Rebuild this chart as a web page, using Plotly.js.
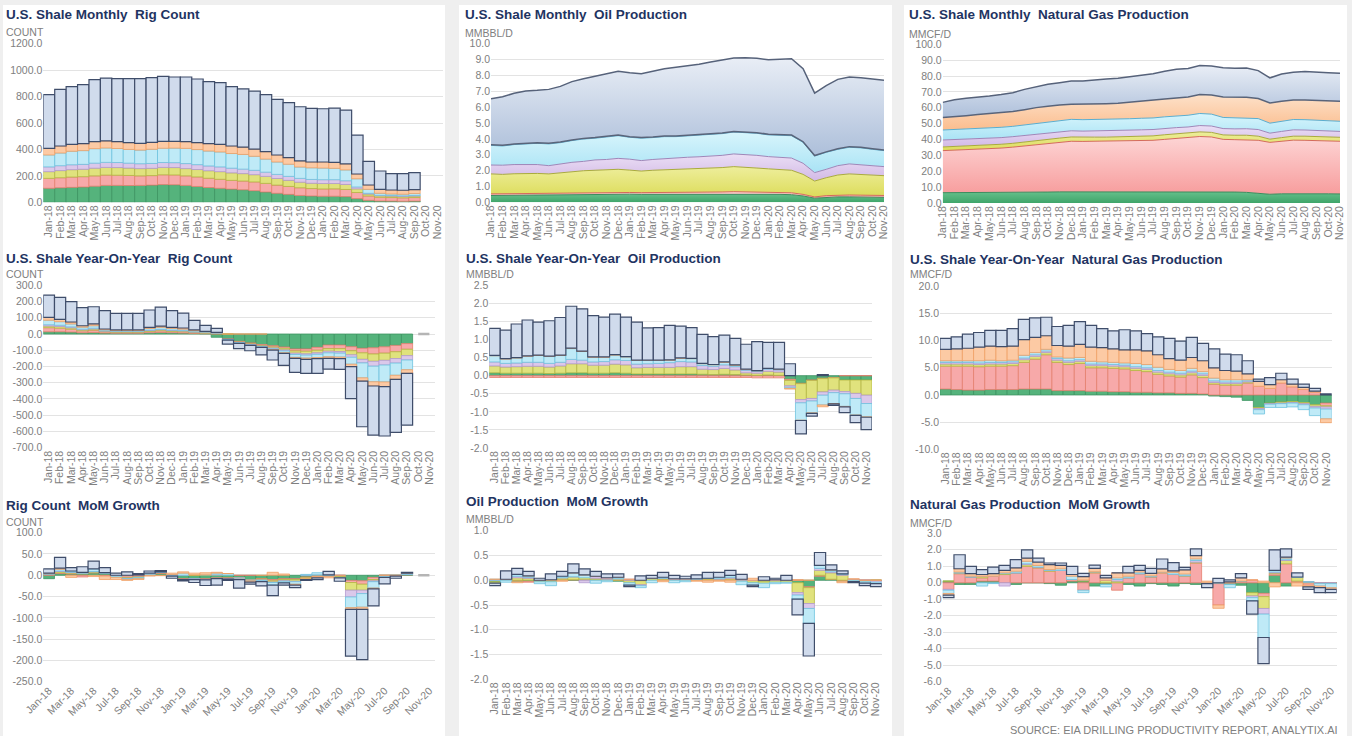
<!DOCTYPE html>
<html><head><meta charset="utf-8">
<script src="https://cdn.plot.ly/plotly-3.0.1.min.js"></script>
<style>html,body{margin:0;padding:0;background:#efefef;}#chart{width:1352px;height:736px;}</style>
</head><body><div id="chart"></div>
<script>
const months = ['Jan-18','Feb-18','Mar-18','Apr-18','May-18','Jun-18','Jul-18','Aug-18','Sep-18','Oct-18','Nov-18','Dec-18',
'Jan-19','Feb-19','Mar-19','Apr-19','May-19','Jun-19','Jul-19','Aug-19','Sep-19','Oct-19','Nov-19','Dec-19',
'Jan-20','Feb-20','Mar-20','Apr-20','May-20','Jun-20','Jul-20','Aug-20','Sep-20','Oct-20','Nov-20'];
const regions = ['Anadarko','Appalachia','Bakken','Niobrara','Eagle Ford','Haynesville','Permian'];

// Monthly rig count
const rigAnadarko   = [106,110,113,116,122,128,128,127,128,130,134,133,128,120,112,106,100,95,88,78,68,60,52,48,46,46,43,28,15,10,9,8,9,null,null];
const rigAppalachia = [75,76,78,78,78,78,77,76,72,72,74,74,72,72,70,68,66,66,66,65,62,60,58,56,55,56,54,46,33,28,27,26,27,null,null];
const rigBakken     = [51,54,56,56,58,58,58,56,55,55,56,56,55,56,57,58,57,56,55,53,50,46,42,40,41,40,38,28,14,11,11,11,11,null,null];
const rigNiobrara   = [36,37,37,37,38,38,38,37,37,37,37,37,38,37,36,36,35,34,33,32,31,30,29,29,29,29,28,14,6,4,4,4,4,null,null];
const rigEagleFord  = [90,96,102,104,110,109,106,104,103,107,108,110,115,114,113,113,111,111,106,99,94,92,86,88,88,86,82,62,30,15,12,12,15,null,null];
const rigHaynesville= [50,53,53,53,53,53,52,51,51,53,52,51,51,52,56,58,57,56,55,56,53,50,46,44,46,45,45,36,33,30,30,30,30,null,null];
const rigPermian    = [406,429,436,446,469,476,476,484,489,489,492,487,489,482,469,466,449,440,438,431,421,416,410,406,403,411,408,295,179,139,124,126,128,null,null];

// Monthly oil production (MMBBL/D)
const oilAnadarko   = [0.43,0.44,0.45,0.45,0.46,0.47,0.48,0.49,0.50,0.51,0.51,0.52,0.51,0.50,0.50,0.51,0.51,0.52,0.52,0.53,0.53,0.54,0.53,0.52,0.51,0.50,0.48,0.40,0.26,0.32,0.34,0.34,0.33,0.32,0.31];
const oilAppalachia = [0.10,0.10,0.10,0.10,0.10,0.10,0.11,0.11,0.11,0.11,0.11,0.11,0.11,0.11,0.11,0.11,0.12,0.12,0.12,0.12,0.12,0.13,0.13,0.13,0.13,0.12,0.12,0.10,0.08,0.10,0.12,0.12,0.12,0.12,0.12];
const oilBakken     = [1.26,1.22,1.25,1.28,1.26,1.22,1.27,1.35,1.38,1.40,1.42,1.45,1.41,1.36,1.41,1.43,1.43,1.44,1.47,1.49,1.54,1.58,1.56,1.51,1.47,1.46,1.42,1.26,1.00,1.13,1.26,1.33,1.31,1.28,1.25];
const oilNiobrara   = [0.56,0.58,0.58,0.57,0.56,0.52,0.56,0.57,0.59,0.65,0.66,0.69,0.69,0.66,0.68,0.71,0.74,0.76,0.76,0.76,0.77,0.80,0.80,0.80,0.77,0.76,0.77,0.70,0.53,0.53,0.59,0.63,0.61,0.61,0.57];
const oilEagleFord  = [1.24,1.21,1.26,1.30,1.34,1.37,1.34,1.37,1.41,1.37,1.40,1.43,1.38,1.41,1.38,1.38,1.34,1.34,1.38,1.37,1.37,1.38,1.37,1.39,1.37,1.38,1.41,1.32,1.05,1.07,1.03,1.05,1.06,1.01,1.01];
const oilHaynesville= [0.04,0.04,0.04,0.04,0.04,0.04,0.04,0.04,0.04,0.04,0.04,0.04,0.04,0.04,0.04,0.04,0.04,0.04,0.04,0.04,0.04,0.04,0.04,0.04,0.04,0.04,0.04,0.04,0.03,0.03,0.04,0.04,0.04,0.04,0.04];
const oilPermian    = [2.90,3.07,3.19,3.28,3.30,3.40,3.51,3.68,3.76,3.86,3.95,4.02,4.03,4.03,4.14,4.24,4.33,4.37,4.41,4.53,4.60,4.63,4.69,4.69,4.70,4.75,4.81,4.60,3.93,4.18,4.37,4.39,4.39,4.39,4.39];

// Monthly natural gas production (MMCF/D, thousands)
const gasAnadarko   = [6.5,6.5,6.5,6.5,6.6,6.6,6.6,6.7,6.8,6.9,7.0,7.0,7.0,7.1,7.1,7.2,7.2,7.2,7.2,7.3,7.3,7.3,7.3,7.2,7.0,6.9,6.7,6.3,5.5,5.8,5.9,5.9,5.8,5.8,5.7];
const gasAppalachia = [26.5,26.8,27.0,27.2,27.6,28.0,28.6,29.3,30.0,30.6,31.2,31.9,31.8,31.8,31.7,31.8,32.0,32.1,32.3,32.8,33.4,34.0,34.6,34.4,33.1,33.0,33.2,33.2,32.7,33.2,33.7,33.6,33.5,33.4,33.2];
const gasBakken     = [2.3,2.3,2.3,2.3,2.4,2.4,2.4,2.5,2.6,2.6,2.7,2.7,2.6,2.6,2.7,2.7,2.7,2.8,2.8,2.9,2.9,2.9,2.9,2.9,2.8,2.8,2.8,2.6,2.0,2.2,2.5,2.6,2.6,2.6,2.5];
const gasNiobrara   = [4.4,4.4,4.3,4.2,4.2,4.2,4.2,4.1,4.1,4.0,4.0,3.9,3.9,3.9,3.9,3.9,4.0,4.0,4.0,4.0,3.9,3.7,4.0,4.0,4.0,4.0,4.1,4.2,3.8,3.9,4.0,3.9,3.8,3.8,3.7];
const gasEagleFord  = [6.3,6.3,6.4,6.5,6.5,6.5,6.5,6.6,6.6,6.7,6.9,7.2,7.2,7.2,7.2,7.2,7.2,7.3,7.3,7.3,7.4,7.4,7.6,7.5,7.0,6.9,6.9,6.9,6.3,6.4,6.5,6.5,6.5,6.4,6.4];
const gasHaynesville= [7.8,8.3,8.5,9.0,9.0,9.2,9.3,9.6,10.0,10.1,10.0,9.5,9.7,9.8,10.0,10.0,10.3,10.7,10.9,11.2,11.3,11.5,11.9,12.1,12.9,13.2,12.9,12.6,12.7,12.6,12.3,12.4,12.5,12.5,12.6];
const gasPermian    = [9.6,10.5,11.0,10.9,11.1,11.4,11.9,12.8,13.2,13.9,14.0,14.7,14.7,15.3,15.6,15.8,16.2,16.6,17.0,17.5,18.0,17.9,18.3,18.2,18.5,18.1,18.5,17.6,15.8,17.2,17.5,17.9,17.9,17.6,17.6];

// Year-on-year rig count
const yoyRigAnadarko   = [14,14,12,8,10,6,5,5,5,8,10,8,6,3,2,-20,-30,-45,-55,-65,-72,-80,-92,-92,-82,-68,-68,-78,-88,-85,-79,-70,-59,null,null];
const yoyRigAppalachia = [25,22,18,12,14,8,6,6,6,8,10,8,8,5,3,2,-3,-5,-6,-7,-8,-8,-12,-14,-18,-22,-22,-25,-28,-38,-39,-39,-35,null,null];
const yoyRigBakken     = [10,10,8,6,7,4,3,3,3,5,6,5,5,4,3,2,0,-2,-3,-3,-6,-10,-14,-16,-16,-16,-18,-25,-40,-45,-44,-42,-39,null,null];
const yoyRigNiobrara   = [8,8,6,4,5,2,2,2,2,3,3,3,2,2,1,1,-2,-2,-3,-4,-5,-6,-8,-8,-9,-10,-10,-15,-22,-30,-29,-28,-27,null,null];
const yoyRigEagleFord  = [28,22,18,12,15,6,5,5,5,10,12,10,9,6,4,2,-2,-3,-3,-3,-6,-12,-18,-18,-20,-24,-24,-43,-92,-96,-104,-75,-60,null,null];
const yoyRigHaynesville= [18,14,12,9,11,5,4,4,4,7,8,7,7,5,3,3,0,0,0,0,-2,-3,-6,-8,-7,-10,-10,-15,-20,-26,-29,-25,-22,null,null];
const yoyRigPermian    = [137,136,125,111,106,113,102,102,102,107,117,103,92,59,37,25,-25,-33,-33,-47,-61,-74,-86,-86,-90,-66,-66,-197,-281,-302,-304,-327,-319,null,null];
const yoyRigNoData     = [null,null,null,null,null,null,null,null,null,null,null,null,null,null,null,null,null,null,null,null,null,null,null,null,null,null,null,null,null,null,null,null,null,0,0];

// Year-on-year oil production
const yoyOilAnadarko   = [0.08,0.07,0.07,0.07,0.07,0.06,0.07,0.08,0.08,0.07,0.07,0.08,0.07,0.05,0.05,0.05,0.05,0.05,0.05,0.04,0.03,0.04,0.03,0.02,0.01,0.02,0.01,-0.10,-0.21,-0.12,-0.07,-0.05,-0.12,-0.12,-0.12];
const yoyOilAppalachia = [-0.05,-0.05,-0.05,-0.05,-0.05,-0.05,-0.05,-0.05,-0.05,-0.05,-0.05,-0.05,-0.05,-0.05,-0.05,-0.05,-0.05,-0.05,-0.05,-0.05,-0.05,-0.05,-0.05,-0.05,-0.06,-0.06,-0.06,-0.03,-0.01,-0.01,-0.01,-0.01,0,0,0];
const yoyOilBakken     = [0.19,0.17,0.18,0.19,0.19,0.18,0.20,0.25,0.25,0.22,0.22,0.24,0.23,0.17,0.18,0.18,0.18,0.20,0.20,0.14,0.14,0.16,0.13,0.06,0.06,0.10,0.09,-0.15,-0.44,-0.50,-0.37,-0.34,-0.32,-0.37,-0.42];
const yoyOilNiobrara   = [0.11,0.10,0.10,0.11,0.11,0.10,0.10,0.12,0.10,0.09,0.10,0.12,0.12,0.10,0.10,0.11,0.13,0.14,0.13,0.10,0.09,0.10,0.09,0.07,0.05,0.06,0.06,-0.04,-0.09,-0.07,-0.09,-0.07,-0.06,-0.14,-0.23];
const yoyOilEagleFord  = [0.17,0.12,0.14,0.17,0.19,0.19,0.19,0.30,0.24,0.13,0.12,0.13,0.10,0.10,0.09,0.08,0.07,0.09,0.09,0.05,0.04,0.07,0.04,0.02,0.02,0.02,0.02,-0.03,-0.48,-0.33,-0.27,-0.30,-0.35,-0.46,-0.37];
const yoyOilHaynesville= [0.01,0.01,0.01,0.01,0.01,0.01,0.01,0.01,0.01,0.01,0.01,0.01,0.01,0.01,0.01,0.01,0.01,0.01,0.01,0.01,0.01,0.01,0.01,0.01,0,0,0,-0.02,-0.01,-0.01,-0.05,-0.01,-0.01,-0.01,-0.01];
const yoyOilPermian    = [0.75,0.79,0.93,0.99,0.91,0.98,1.04,1.16,1.17,1.14,1.10,1.12,1.09,1.05,0.89,0.90,0.95,0.88,0.85,0.80,0.77,0.74,0.73,0.69,0.80,0.72,0.74,0.33,-0.37,-0.08,0.03,-0.04,-0.16,-0.20,-0.34];

// Year-on-year natural gas production
const yoyGasAnadarko   = [1.1,1.0,0.9,0.9,1.0,1.0,1.0,1.1,1.1,1.1,0.8,0.8,0.8,0.7,0.7,0.6,0.6,0.5,0.5,0.4,0.4,0.3,0.3,0.2,-0.2,-0.3,-0.4,-1.0,-2.3,-1.5,-1.3,-1.2,-1.4,-1.8,-1.5];
const yoyGasAppalachia = [4.2,4.3,4.4,4.3,4.3,4.3,4.4,4.9,5.5,6.3,5.2,4.8,5.0,4.3,4.3,4.3,4.2,4.0,3.8,3.4,3.1,3.0,3.4,3.0,2.0,1.8,1.8,2.2,1.6,1.2,2.2,1.5,1.0,0.5,-0.5];
const yoyGasBakken     = [0.4,0.4,0.4,0.4,0.4,0.4,0.4,0.5,0.5,0.4,0.4,0.4,0.4,0.4,0.4,0.4,0.4,0.4,0.4,0.4,0.4,0.4,0.4,0.4,0.3,0.3,0.3,0.2,-0.2,-0.1,-0.2,-0.2,-0.2,-0.3,-0.2];
const yoyGasNiobrara   = [0.3,0.3,0.3,0.3,0.3,0.3,0.3,0.3,0.3,0.3,0.3,0.3,0.3,0.3,0.3,0.3,0.3,0.3,0.3,0.3,0.3,0.3,0.3,0.3,0.3,0.3,0.3,0.2,-0.2,-0.1,-0.1,-0.1,-0.2,-0.3,-0.4];
const yoyGasEagleFord  = [0.3,0.3,0.3,0.4,0.4,0.3,0.3,0.5,0.4,0.3,0.3,0.5,0.4,0.5,0.4,0.4,0.4,0.6,0.6,0.6,0.5,0.5,0.5,0.4,0.5,0.4,0.4,0.2,-0.8,-0.6,-0.7,-0.7,-0.9,-1.4,-1.8];
const yoyGasHaynesville= [2.1,2.2,2.3,2.5,2.6,2.6,2.6,2.9,2.8,2.5,2.1,2.2,2.4,2.6,2.6,2.5,2.4,2.5,2.5,2.3,2.0,1.9,2.0,2.0,1.9,1.7,1.6,1.1,0.9,0.7,0.6,0.5,0.4,0.2,-0.7];
const yoyGasPermian    = [2.0,2.2,2.6,2.7,2.9,3.0,3.2,3.7,3.6,3.4,3.5,3.8,4.2,4.0,3.5,3.3,3.7,3.5,3.2,3.3,3.7,3.5,3.7,3.2,3.5,3.0,3.0,2.4,0.4,1.3,1.2,0.9,0.6,0.5,0.2];

// Month-on-month rig count
const momRigAnadarko   = [-8,4,3,3,6,5,0,-1,1,2,4,-2,-8,-8,-8,-6,-6,-5,-10,-8,-10,-8,-8,-4,-2,0,-2,-12,-13,-5,-1,-1,1,null,null];
const momRigAppalachia = [2,2,2,-4,0,-2,-2,-4,-4,0,2,0,-2,0,-2,-2,-1,0,0,-1,-3,-2,-2,-2,-1,1,-1,-5,-8,-5,-1,-1,1,null,null];
const momRigBakken     = [1,3,2,1,2,0,0,-2,-1,0,1,0,0,1,1,1,-1,-1,-1,-2,-3,-3,-4,-2,1,-1,-2,-18,-14,-3,0,0,0,null,null];
const momRigNiobrara   = [0,1,0,0,1,0,0,-1,0,0,0,0,0,-1,-1,0,-1,-1,-1,-1,-1,-1,-1,0,0,0,0,-16,-8,-2,0,0,0,null,null];
const momRigEagleFord  = [2,4,3,2,6,1,-3,-2,-3,3,1,2,5,-1,0,4,4,-2,-1,-3,-6,-4,-6,2,5,-2,-1,-25,-32,-15,-3,0,3,null,null];
const momRigHaynesville= [0,3,-5,1,-3,-8,-5,-2,-2,-2,-1,3,3,4,5,2,0,-1,-3,0,7,3,-2,-2,-3,-3,0,-4,-5,-2,0,0,0,null,null];
const momRigPermian    = [10,25,8,13,18,12,5,8,3,5,3,-5,-3,-7,-13,-15,-3,-20,-5,-10,-25,-5,-6,-2,-4,8,-8,-110,-118,-40,-15,-5,2,null,null];
const momRigNoData     = yoyRigNoData;

// Month-on-month oil production
const momOilAnadarko   = [-0.03,0.01,-0.03,-0.02,0,0.01,0.01,0.01,0.01,0.01,0,-0.02,-0.01,-0.01,0,0.01,0,0,0,0.01,0,0.01,0,-0.01,-0.02,0,0,-0.05,-0.13,0.08,0.02,-0.02,0,-0.01,-0.01];
const momOilAppalachia = [0,0,0,-0.02,0,0,0,0,0,0,0,0,0,0,0,0,0,0,0,0,0,0,0,0,0,0,0,0,-0.02,0.02,0,0,0,0,0];
const momOilBakken     = [-0.03,0,0.05,0.04,-0.03,-0.03,0.04,0.06,0.04,0.03,0.02,0.03,-0.04,-0.08,0.04,0.03,0.01,0.02,0.02,0.03,0.02,0.03,-0.02,-0.04,-0.04,-0.04,-0.04,-0.20,-0.32,0.10,0.13,0.10,0.01,-0.01,0];
const momOilNiobrara   = [0,0.01,0.03,0.02,0,0,0,0,-0.05,0.04,0.03,0,0.02,-0.02,0,0,0.02,0.01,0,0,0.01,0.02,0.02,0,0,0.01,0,-0.05,-0.10,0.04,0.02,0.02,0.01,0,-0.03];
const momOilEagleFord  = [0.02,-0.04,0.04,0.03,-0.04,-0.08,0.03,0.08,0.06,-0.06,-0.03,0.03,-0.05,-0.04,-0.05,0.02,-0.05,-0.03,0.01,0,0.03,0.04,-0.07,-0.05,-0.09,-0.03,-0.02,-0.08,-0.30,0.06,0.04,0.01,-0.03,-0.04,-0.03];
const momOilHaynesville= [0,0,-0.02,0,0,0,-0.02,0,0,0,0,0,0,0,0,-0.03,0,0,-0.02,-0.04,-0.02,-0.04,0,0.04,0,0,0,0.01,0,0,0,-0.03,0.01,0,0];
const momOilPermian    = [-0.05,0.17,0.12,0.09,0.04,0.12,0.10,0.18,0.12,0.10,0.08,0.07,-0.03,0.09,0.06,0.10,0.07,0.05,0.08,0.12,0.10,0.10,0.10,-0.03,0.07,0.03,0.10,-0.32,-0.66,0.26,0.10,0.06,-0.02,-0.05,-0.06];

// Month-on-month natural gas production
const momGasAnadarko   = [0.1,-0.1,-0.1,0.1,0.1,0,-0.1,0,0,-0.05,-0.15,0.1,0.1,-0.2,-0.1,0,-0.1,-0.2,-0.05,-0.1,-0.2,-0.05,-0.1,-0.05,-0.05,-0.1,-0.15,-0.6,-0.64,0.45,-0.2,0,0,0,0];
const momGasAppalachia = [-0.4,0.55,0.35,0.2,0.3,0.5,0.6,1.0,0.9,0.7,0.75,0.1,-0.45,0.6,0,-0.45,0.3,0.55,0.35,0.6,0.5,0.4,1.2,0,-1.3,0,0.1,0.17,-0.2,0.1,1.15,0.1,-0.15,-0.05,-0.05];
const momGasBakken     = [0,0.05,0,0.1,0,0.05,0,0.1,0.05,0.05,0,0,0.07,0.07,0.15,0.1,0,0,0.02,0.04,0.02,0.03,0.05,0,0,0,0,-0.2,-0.72,0.05,0.2,0.25,0.05,0,0];
const momGasNiobrara   = [-0.05,0,0,0,0,-0.2,0,0.05,0,0,0,0,0,0,0,0.1,0,0,0,0,0,0,0.1,0,0,0,0,-0.1,-0.34,0.05,0.05,0,0,0,0];
const momGasEagleFord  = [-0.2,0.05,0.05,-0.2,-0.05,0.05,0.1,0.15,0.1,0.05,0.1,0.2,-0.15,0,-0.15,0.1,0.1,0.1,0.05,0,0.1,0.1,0.1,0,0,-0.2,0,-0.2,-1.42,0.1,0.1,0,0,-0.15,-0.25];
const momGasHaynesville= [-0.1,0.2,0.15,0.1,0.15,0.15,0.2,0.2,0.2,0.3,0.2,0.1,0.2,0.2,0.15,0.3,0.2,0.1,0.15,0.2,0.1,0.25,0.2,0.1,-0.2,0.05,0.2,0,0.1,-0.25,0.05,-0.2,-0.1,-0.1,-0.1];
const momGasPermian    = [-0.15,0.85,0.45,0.3,0.4,0.3,0.5,0.5,0.25,0.1,0.15,0.5,0.2,0.2,0.15,0,0.4,0.3,0.3,0.6,0.5,0.15,0.4,-0.25,0.27,0.12,0.25,-0.8,-1.58,1.25,0.5,0.25,-0.15,-0.3,-0.2];

// ---------- styling ----------
const W = 1352, H = 736;
const FONT = 'Liberation Sans, Arial, sans-serif';
const FILL = ['#55b37c','#f7a9a9','#e0e27d','#dbc8ea','#bfeaf7','#fccaa4','#d0dbec'];
const EDGE = ['#3e9462','#e4806f','#b4b745','#b49ad0','#6fc3de','#f0a065','#3f4d6a'];
const AREA_EDGE = ['#3b8c5d','#d46a5c','#a9ab3c','#9f86b8','#5aaed0','#59647a','#56627a'];
const GRAD = [['#3fa56a','#66c18c'],['#f79d9d','#fdd5d5'],['#dcdc5a','#eeee9c'],['#d2b9e6','#ebdff5'],
              ['#a9e3f5','#d8f5fc'],['#fbbd8e','#fde1c9'],['#adbfda','#e9eef6']];
const TICK = '#808080', GRID = '#e3e3e3', TITLE = '#1f3462';

const fx = p => p / W, fy = p => 1 - p / H;
const traces = [];
const layout = {
  width: W, height: H, margin: {l:0, r:0, t:0, b:0},
  paper_bgcolor: '#efefef', plot_bgcolor: 'rgba(0,0,0,0)',
  barmode: 'relative', bargap: 0, showlegend: false,
  font: {family: FONT, size: 10.5, color: TICK},
  shapes: [], annotations: []
};

function yticks(lo, hi, step) {
  const v = [], t = [];
  for (let k = Math.round(lo / step); k <= Math.round(hi / step); k++) {
    const val = +(k * step).toFixed(6);
    v.push(val); t.push(val.toFixed(1));
  }
  return {v, t};
}

function panel(n, cfg) {
  const xs = n === 1 ? '' : String(n);
  const xa = 'x' + xs, ya = 'y' + xs;
  const cum = months.map(() => 0);
  cfg.series.forEach((arr, k) => {
    if (cfg.kind === 'bar') {
      traces.push({type:'bar', x: months, y: arr, xaxis: xa, yaxis: ya, name: regions[k],
        marker: {color: FILL[k], line: {color: EDGE[k], width: k === 6 ? 1.2 : 0.8}}, hoverinfo: 'skip'});
    } else {
      // vertical gradient spanning the band's extent on the stacked scale
      const lo = Math.min(...cum);
      arr.forEach((v, i) => { cum[i] += v; });
      const hi = Math.max(...cum);
      traces.push({type:'scatter', mode:'lines', x: months, y: arr, xaxis: xa, yaxis: ya, name: regions[k],
        stackgroup: 'st' + n, fillcolor: FILL[k],
        fillgradient: {type: 'vertical', start: lo, stop: hi, colorscale: [[0, GRAD[k][0]], [1, GRAD[k][1]]]},
        line: {color: AREA_EDGE[k], width: k >= 5 ? 1.5 : 1}, hoverinfo: 'skip'});
    }
  });
  if (cfg.noData) {
    traces.push({type:'scatter', mode:'lines', x: months, y: cfg.noData, xaxis: xa, yaxis: ya, name:'n/a',
      line: {color:'#b5b5b5', width: 2.5}, hoverinfo:'skip'});
  }
  const tv = cfg.every === 2 ? months.filter((m, i) => i % 2 === 0) : months;
  const yt = yticks(cfg.range[0], cfg.range[1], cfg.dtick);
  layout['xaxis' + xs] = {
    domain: [fx(cfg.x[0]), fx(cfg.x[1])], anchor: ya, type: 'category',
    range: cfg.kind === 'bar' ? [-0.5, 34.5] : [0, 34],
    tickmode: 'array', tickvals: tv, ticktext: tv, tickangle: cfg.angle,
    showgrid: false, zeroline: false, showline: false, ticks: '',
    tickfont: {family: FONT, size: 10.5, color: TICK}, fixedrange: true
  };
  layout['yaxis' + xs] = {
    domain: [fy(cfg.y[1]), fy(cfg.y[0])], anchor: xa, range: cfg.range,
    tickmode: 'array', tickvals: yt.v, ticktext: yt.t,
    showgrid: true, gridcolor: GRID, gridwidth: 1, zeroline: false, showline: false, ticks: '',
    tickfont: {family: FONT, size: 10.5, color: TICK}, fixedrange: true
  };
  layout.annotations.push({xref:'paper', yref:'paper', x: fx(cfg.tx), y: fy(cfg.ty), xanchor:'left', yanchor:'middle',
    text: '<b>' + cfg.title + '</b>', showarrow:false, font:{family: FONT, size: 13.5, color: TITLE}});
  layout.annotations.push({xref:'paper', yref:'paper', x: fx(cfg.tx), y: fy(cfg.uy), xanchor:'left', yanchor:'middle',
    text: cfg.unit, showarrow:false, font:{family: FONT, size: 10.5, color: TICK}});
}

// white column panels
[[3,445],[459,892],[904,1347]].forEach(c => layout.shapes.push({type:'rect', xref:'paper', yref:'paper', layer:'below',
  x0: fx(c[0]), x1: fx(c[1]), y0: 0, y1: fy(5), fillcolor:'#ffffff', line:{width:0}}));

panel(1, {kind:'bar', series:[rigAnadarko,rigAppalachia,rigBakken,rigNiobrara,rigEagleFord,rigHaynesville,rigPermian],
  x:[43.3,443], y:[43.7,202.3], range:[0,1200], dtick:200, angle:-90, every:1,
  title:'U.S. Shale Monthly  Rig Count', unit:'COUNT', tx:4, ty:14, uy:32});
panel(2, {kind:'area', series:[oilAnadarko,oilAppalachia,oilBakken,oilNiobrara,oilEagleFord,oilHaynesville,oilPermian],
  x:[491,884], y:[43.7,202.3], range:[0,10], dtick:1, angle:-90, every:1,
  title:'U.S. Shale Monthly  Oil Production', unit:'MMBBL/D', tx:463, ty:14.5, uy:33});
panel(3, {kind:'area', series:[gasAnadarko,gasAppalachia,gasBakken,gasNiobrara,gasEagleFord,gasHaynesville,gasPermian],
  x:[942.7,1340], y:[44.3,203], range:[0,100], dtick:10, angle:-90, every:1,
  title:'U.S. Shale Monthly  Natural Gas Production', unit:'MMCF/D', tx:907, ty:15, uy:34});
panel(4, {kind:'bar', series:[yoyRigAnadarko,yoyRigAppalachia,yoyRigBakken,yoyRigNiobrara,yoyRigEagleFord,yoyRigHaynesville,yoyRigPermian],
  noData: yoyRigNoData, x:[43.3,435], y:[285.3,447.7], range:[-700,300], dtick:100, angle:-90, every:1,
  title:'U.S. Shale Year-On-Year  Rig Count', unit:'COUNT', tx:4, ty:258.3, uy:273.5});
panel(5, {kind:'bar', series:[yoyOilAnadarko,yoyOilAppalachia,yoyOilBakken,yoyOilNiobrara,yoyOilEagleFord,yoyOilHaynesville,yoyOilPermian],
  x:[489.3,872], y:[285.3,448], range:[-2,2.5], dtick:0.5, angle:-90, every:1,
  title:'U.S. Shale Year-On-Year  Oil Production', unit:'MMBBL/D', tx:464, ty:258.7, uy:274});
panel(6, {kind:'bar', series:[yoyGasAnadarko,yoyGasAppalachia,yoyGasBakken,yoyGasNiobrara,yoyGasEagleFord,yoyGasHaynesville,yoyGasPermian],
  x:[940,1331.7], y:[286.3,449.3], range:[-10,20], dtick:5, angle:-90, every:1,
  title:'U.S. Shale Year-On-Year  Natural Gas Production', unit:'MMCF/D', tx:908, ty:259, uy:274});
panel(7, {kind:'bar', series:[momRigAnadarko,momRigAppalachia,momRigBakken,momRigNiobrara,momRigEagleFord,momRigHaynesville,momRigPermian],
  noData: momRigNoData, x:[43.3,435], y:[532.7,681.7], range:[-250,100], dtick:50, angle:-45, every:2,
  title:'Rig Count  MoM Growth', unit:'COUNT', tx:4, ty:505, uy:521.7});
panel(8, {kind:'bar', series:[momOilAnadarko,momOilAppalachia,momOilBakken,momOilNiobrara,momOilEagleFord,momOilHaynesville,momOilPermian],
  x:[489.3,881.7], y:[530.7,679.3], range:[-2,1], dtick:0.5, angle:-90, every:1,
  title:'Oil Production  MoM Growth', unit:'MMBBL/D', tx:464, ty:501.7, uy:519.3});
panel(9, {kind:'bar', series:[momGasAnadarko,momGasAppalachia,momGasBakken,momGasNiobrara,momGasEagleFord,momGasHaynesville,momGasPermian],
  x:[942.7,1336.7], y:[533.3,681.7], range:[-6,3], dtick:1, angle:-45, every:2,
  title:'Natural Gas Production  MoM Growth', unit:'MMCF/D', tx:908, ty:504, uy:523.3});

layout.annotations.push({xref:'paper', yref:'paper', x: fx(1340), y: fy(729.5), xanchor:'right', yanchor:'middle',
  text:'SOURCE: EIA DRILLING PRODUCTIVITY REPORT, ANALYTIX.AI', showarrow:false, font:{family: FONT, size: 11, color: TICK}});

Plotly.newPlot('chart', traces, layout, {staticPlot: true, displayModeBar: false});
</script>
</body></html>
